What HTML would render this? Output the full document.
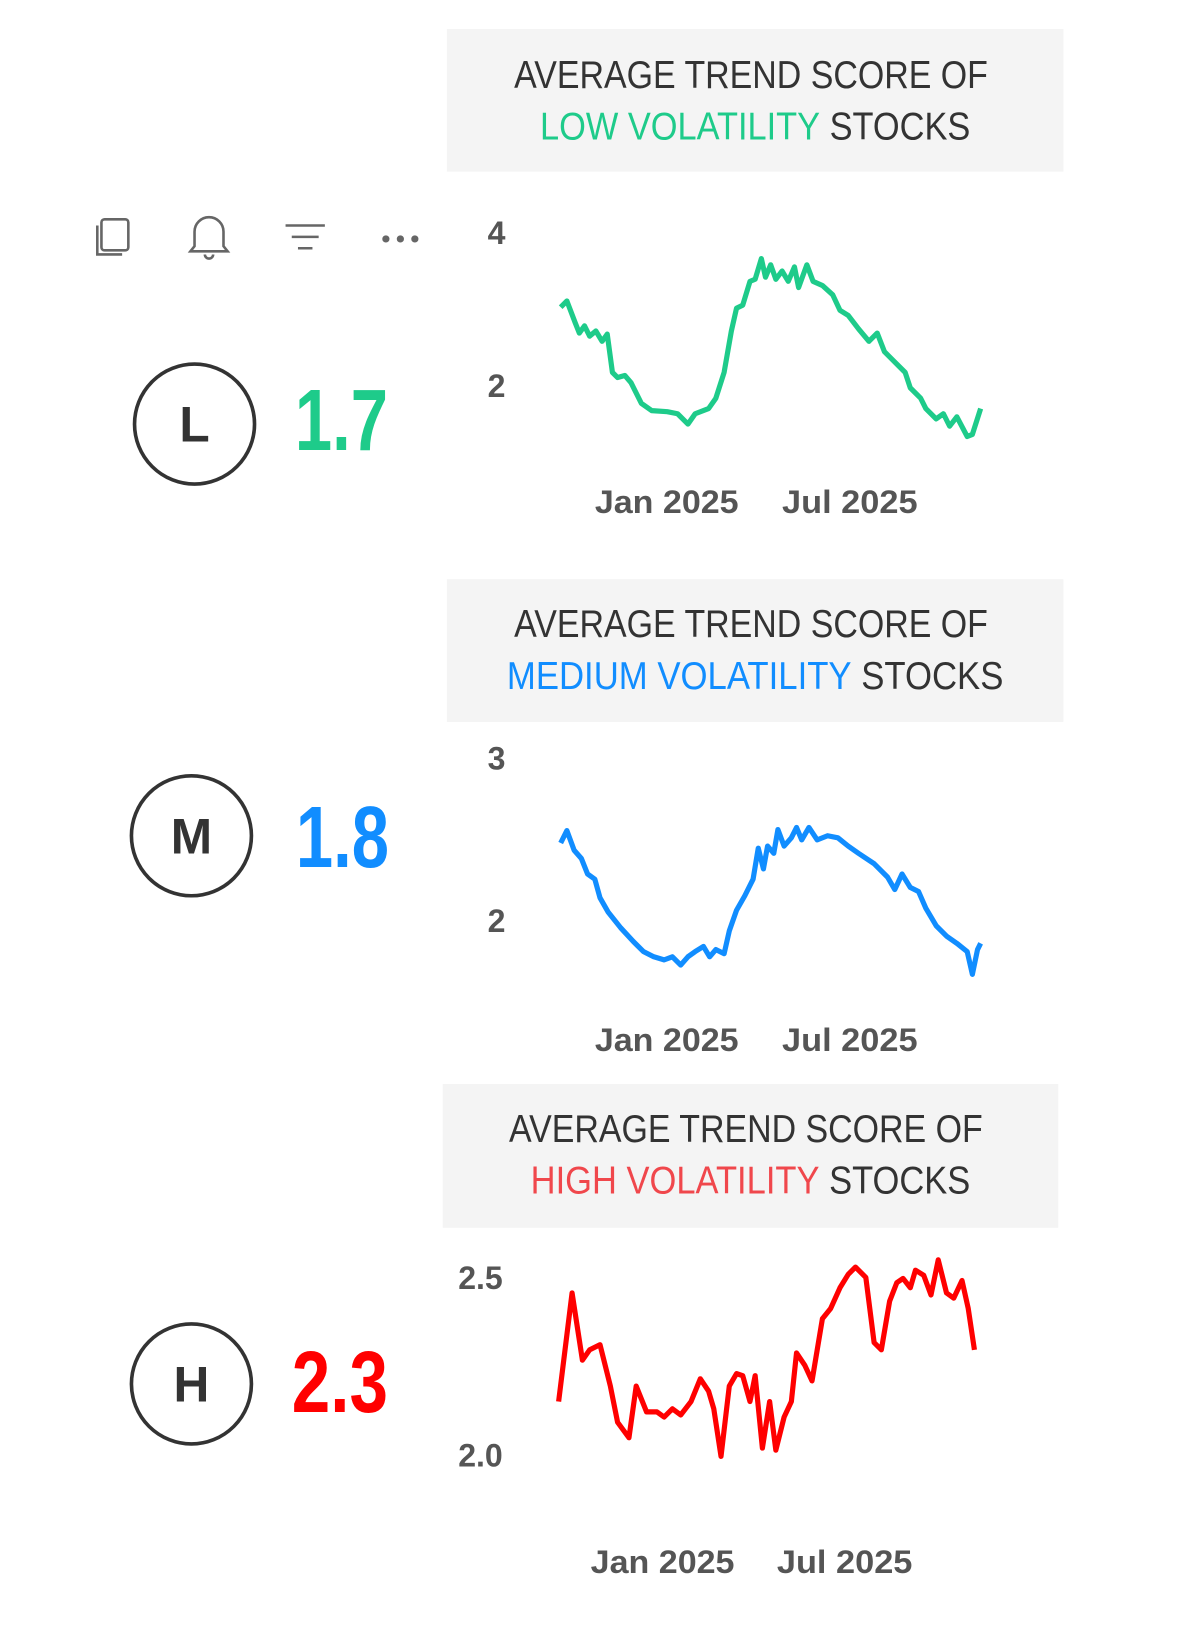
<!DOCTYPE html>
<html><head><meta charset="utf-8"><style>
html,body{margin:0;padding:0;background:#fff;}
svg{display:block;}
.t{font-family:"Liberation Sans Narrow","Liberation Sans",sans-serif;font-size:38px;fill:#333;}
.ax{font-family:"Liberation Sans Narrow","Liberation Sans",sans-serif;font-size:31px;font-weight:bold;fill:#555;}
.v{font-family:"Liberation Sans Narrow","Liberation Sans",sans-serif;font-size:84px;font-weight:bold;}
.c{font-family:"Liberation Sans",sans-serif;font-size:48px;font-weight:bold;fill:#333;}
</style></head><body>
<svg width="1200" height="1626" viewBox="0 0 1160 1572" xmlns="http://www.w3.org/2000/svg">
<rect width="1160" height="1572" fill="#fff"/>
<!-- Box 1 -->
<rect x="432" y="28" width="596" height="138" fill="#f4f4f4"/>
<text class="t" x="497" y="85" textLength="458" lengthAdjust="spacingAndGlyphs">AVERAGE TREND SCORE OF</text>
<text class="t" x="522" y="135" textLength="416" lengthAdjust="spacingAndGlyphs"><tspan fill="#1ecb8a">LOW VOLATILITY</tspan> STOCKS</text>
<!-- icons -->
<g fill="none" stroke="#666" stroke-width="2.5">
<rect x="98" y="212" width="26" height="30" rx="3"/>
<path d="M94 218 v28 h24"/>
<path d="M188 238 v-14 a14 14 0 0 1 28 0 v14 l4 5 h-36 z M198 246 a4 4 0 0 0 8 0"/>
<path d="M276 218 h38 M282 229 h26 M288 240 h14"/>
</g>
<g fill="#666"><circle cx="373" cy="231" r="3.5"/><circle cx="387" cy="231" r="3.5"/><circle cx="401" cy="231" r="3.5"/></g>
<!-- L -->
<circle cx="188" cy="410" r="58" fill="none" stroke="#333" stroke-width="3.5"/>
<text class="c" x="188" y="427" text-anchor="middle">L</text>
<text class="v" x="285" y="435" fill="#1ecb8a" textLength="90" lengthAdjust="spacingAndGlyphs">1.7</text>
<text class="ax" x="480" y="236" text-anchor="middle">4</text>
<text class="ax" x="480" y="384" text-anchor="middle">2</text>
<polyline fill="none" stroke="#1ecb8a" stroke-width="5" stroke-linejoin="round" points="542,297 548,291 556,312 560,322 565,315 570,325 576,320 582,330 587,323 592,360 597,365 604,363 610,370 620,390 630,397 645,398 655,400 665,410 672,400 685,395 692,385 700,360 707,320 712,298 718,295 725,272 730,270 736,250 740,268 745,256 750,270 756,262 762,272 768,258 772,278 780,256 786,272 795,276 805,285 812,300 820,305 830,318 840,330 848,322 855,340 865,350 875,360 880,375 890,385 895,395 905,405 912,400 918,412 925,403 935,422 940,420 948,395"/>
<text class="ax" x="575" y="496" textLength="139" lengthAdjust="spacingAndGlyphs">Jan 2025</text>
<text class="ax" x="756" y="496" textLength="131" lengthAdjust="spacingAndGlyphs">Jul 2025</text>
<!-- Box 2 -->
<rect x="432" y="560" width="596" height="138" fill="#f4f4f4"/>
<text class="t" x="497" y="616" textLength="458" lengthAdjust="spacingAndGlyphs">AVERAGE TREND SCORE OF</text>
<text class="t" x="490" y="666" textLength="480" lengthAdjust="spacingAndGlyphs"><tspan fill="#118dff">MEDIUM VOLATILITY</tspan> STOCKS</text>
<circle cx="185" cy="808" r="58" fill="none" stroke="#333" stroke-width="3.5"/>
<text class="c" x="185" y="825" text-anchor="middle">M</text>
<text class="v" x="286" y="838" fill="#118dff" textLength="90" lengthAdjust="spacingAndGlyphs">1.8</text>
<text class="ax" x="480" y="744" text-anchor="middle">3</text>
<text class="ax" x="480" y="901" text-anchor="middle">2</text>
<polyline fill="none" stroke="#118dff" stroke-width="5" stroke-linejoin="round" points="542,815 548,803 555,822 562,830 568,845 575,850 580,868 588,882 600,897 612,910 622,920 632,925 642,928 650,925 658,933 665,925 672,920 680,915 686,925 692,918 700,922 705,900 712,880 720,866 728,850 733,820 738,840 742,818 748,825 752,802 758,818 765,810 770,800 775,812 782,800 790,812 800,808 810,810 820,818 830,825 845,835 858,848 865,860 872,845 880,858 888,862 895,878 905,895 915,905 925,912 935,920 940,942 945,918 948,912"/>
<text class="ax" x="575" y="1016" textLength="139" lengthAdjust="spacingAndGlyphs">Jan 2025</text>
<text class="ax" x="756" y="1016" textLength="131" lengthAdjust="spacingAndGlyphs">Jul 2025</text>
<!-- Box 3 -->
<rect x="428" y="1048" width="595" height="139" fill="#f4f4f4"/>
<text class="t" x="492" y="1104" textLength="458" lengthAdjust="spacingAndGlyphs">AVERAGE TREND SCORE OF</text>
<text class="t" x="513" y="1154" textLength="425" lengthAdjust="spacingAndGlyphs"><tspan fill="#f0474c">HIGH VOLATILITY</tspan> STOCKS</text>
<circle cx="185" cy="1338" r="58" fill="none" stroke="#333" stroke-width="3.5"/>
<text class="c" x="185" y="1355" text-anchor="middle">H</text>
<text class="v" x="282" y="1365" fill="#ff0000" textLength="93" lengthAdjust="spacingAndGlyphs">2.3</text>
<text class="ax" x="486" y="1246" text-anchor="end" font-size="27">2.5</text>
<text class="ax" x="486" y="1418" text-anchor="end" font-size="27">2.0</text>
<polyline fill="none" stroke="#ff0000" stroke-width="5" stroke-linejoin="round" points="540,1355 553,1250 563,1315 570,1305 580,1300 590,1340 597,1375 608,1390 615,1340 625,1365 635,1365 642,1370 650,1362 658,1368 668,1355 677,1333 685,1345 690,1362 697,1408 705,1340 712,1328 718,1330 725,1355 730,1330 737,1400 744,1355 750,1402 758,1370 765,1355 770,1308 778,1320 785,1335 795,1275 803,1265 812,1245 820,1232 827,1225 837,1235 845,1298 852,1305 860,1258 867,1240 873,1236 880,1245 885,1228 893,1233 900,1252 907,1218 915,1250 922,1255 930,1238 936,1265 942,1305"/>
<text class="ax" x="571" y="1521" textLength="139" lengthAdjust="spacingAndGlyphs">Jan 2025</text>
<text class="ax" x="751" y="1521" textLength="131" lengthAdjust="spacingAndGlyphs">Jul 2025</text>
</svg>
</body></html>
